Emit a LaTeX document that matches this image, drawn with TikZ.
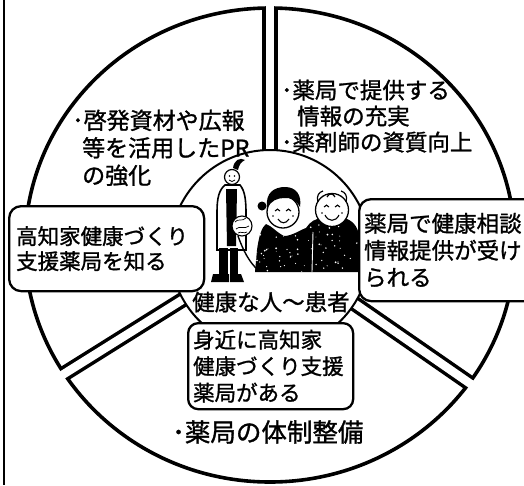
\documentclass[tikz,border=0pt]{standalone}
\usepackage{fontspec}
\newfontfamily\jp[FakeBold=1.2]{Noto Sans CJK JP}
\begin{document}
\begin{tikzpicture}[x=1pt,y=-1pt,
  ring/.style={line width=3.6pt},
  box/.style={draw, line width=2.3pt, fill=white, rounded corners=12pt,
    align=left, anchor=north west, inner ysep=0pt},
  txt/.style={inner sep=0pt, align=left},
  thinline/.style={line width=1.1pt},
]
\useasboundingbox (0,0) rectangle (524,485);
\fill[white] (0,0) rectangle (524,485);
% frame line on the left
\draw[line width=2pt] (4,0) -- (4,485);

% centre of the ring and the three dividing directions
\coordinate (O) at (270,245);
\coordinate (gT) at (270,-60);
\coordinate (gL) at (15.6,404.2);
\coordinate (gR) at (516.7,415.8);

% outer ring split into three sectors by double lines
\draw[ring] (O) ellipse [x radius=245, y radius=237];
\begin{scope}
  \clip (O) ellipse [x radius=245, y radius=237];
  \foreach \g in {gT,gL,gR} \draw[line width=15.5pt] (O) -- (\g);
\end{scope}
\foreach \g in {gT,gL,gR} \draw[white, line width=8.5pt] (O) -- (\g);

% inner circle
\draw[line width=2pt, fill=white] (270,250) circle (100);

% --- people in the middle ---
% pharmacist
\fill (233,168) .. controls (234,160) and (240,157) .. (245,160)
  .. controls (241,162) and (239,165) .. (238,170) -- cycle;
\draw[line width=1.6pt, fill=white] (217,250) -- (217,212)
  .. controls (217,198) and (219,190) .. (225,185) -- (240,185)
  .. controls (245,191) and (246,200) .. (246,214) -- (246,250) -- cycle;
\draw[line width=1.2pt, fill=white] (232,177) circle (7.5);
\fill (229.5,176) circle (0.9) (234.5,176) circle (0.9);
\draw[line width=0.8pt] (229,180) .. controls (231,182) and (233,182) .. (235,180);
\fill (226,189) -- (237,189) -- (236,246) -- (227,246) -- cycle;
\fill (219,248) rectangle (228,274);
\fill (230,248) rectangle (238,274);
\fill (213,274) -- (229,274) -- (229,282) -- (211,282) -- cycle;
\fill (230,274) -- (241,274) -- (244,282) -- (230,282) -- cycle;
\draw[line width=1.1pt, fill=white] (242,226) circle (10);
\draw[line width=0.7pt] (235,222) .. controls (238,218) and (242,222) .. (246,218)
  (236,229) .. controls (240,225) and (244,230) .. (249,226)
  (238,233) .. controls (241,231) and (244,234) .. (247,232);
\draw[line width=1.4pt] (238,236) .. controls (243,250) and (249,262) .. (258,270);

% two elderly people: dark clothing
\def\bodies{(255,272) -- (257,250) .. controls (259,235) and (262,227) .. (266,224)
  .. controls (272,226) and (276,232) .. (284,236)
  .. controls (292,236) and (300,230) .. (306,228)
  .. controls (310,222) and (315,218) .. (324,218) -- (344,218)
  .. controls (352,220) and (358,226) .. (359,236) -- (360,272) -- cycle}
\fill \bodies;
\begin{scope}
  \clip \bodies;
  \pgfmathsetseed{11}
  \foreach \i in {1,...,80} {\fill[white] (255+105*rnd, 220+52*rnd) circle (0.4+0.6*rnd);}
  \draw[white, line width=0.9pt] (313,232) -- (312,272);
\end{scope}

% woman
\draw[line width=1.3pt, fill=white] (283,212) circle (16);
\fill (267,208) .. controls (265,192) and (275,187) .. (285,187)
  .. controls (296,187) and (302,195) .. (300,207)
  .. controls (296,200) and (290,197) .. (284,198)
  .. controls (277,198) and (271,201) .. (267,208) -- cycle;
\fill (262,206) circle (4.5);
\draw[thinline] (275,211) .. controls (276,208.5) and (279,208.5) .. (280,211)
  (286,211) .. controls (287,208.5) and (290,208.5) .. (291,211);
\draw[thinline] (278,219) .. controls (281,224) and (286,224) .. (289,219);
\fill (273,216) circle (0.8) (293,216) circle (0.8);

% man
\draw[line width=1.3pt, fill=white] (332,210) circle (16.5);
\draw[line width=1.2pt] (318,202) .. controls (316,196) and (319,192) .. (323,191)
  (346,202) .. controls (348,196) and (345,192) .. (341,191)
  (327,197) .. controls (329,193) and (333,193) .. (335,197);
\draw[thinline] (324,207) .. controls (325,204.5) and (328,204.5) .. (329,207)
  (335,207) .. controls (336,204.5) and (339,204.5) .. (340,207);
\draw[thinline] (325,215) .. controls (328,222) and (336,222) .. (339,215);
\fill (322,213) circle (0.8) (342,213) circle (0.8);

% --- boxes ---
\node[box, text width=181pt, inner xsep=7pt, minimum height=85pt,
  font=\jp\fontsize{21.5pt}{25pt}\selectfont] (know) at (8,205)
  {高知家健康づくり\\支援薬局を知る};
\node[box, text width=172pt, inner xsep=5pt, minimum height=102pt,
  font=\jp\fontsize{22.5pt}{27pt}\selectfont] (consult) at (358,198)
  {薬局で健康相談\\情報提供が受け\\られる};
\node[box, rounded corners=10pt, text width=155pt, inner xsep=5pt, minimum height=86pt,
  font=\jp\fontsize{21.5pt}{26.5pt}\selectfont] (near) at (187,322)
  {身近に高知家\\健康づくり支援\\薬局がある};

% --- sector texts ---
\node[txt, anchor=north west, font=\jp\fontsize{23pt}{27.5pt}\selectfont] (pr) at (72,109.5)
  {･啓発資材や広報\\\hspace*{10pt}等を活用したPR\\\hspace*{10pt}の強化};
\node[txt, anchor=north west, font=\jp\fontsize{22.5pt}{26pt}\selectfont] (info) at (281,79.5)
  {･薬局で提供する\\\hspace*{16pt}情報の充実\\･薬剤師の資質向上};
\node[txt, anchor=west, font=\jp\fontsize{25.5pt}{30pt}\selectfont] (sys) at (172,432)
  {･薬局の体制整備};
\node[txt, anchor=west, font=\jp\fontsize{22.5pt}{27pt}\selectfont] (ppl) at (192,302)
  {健康な人～患者};
\end{tikzpicture}
\end{document}
